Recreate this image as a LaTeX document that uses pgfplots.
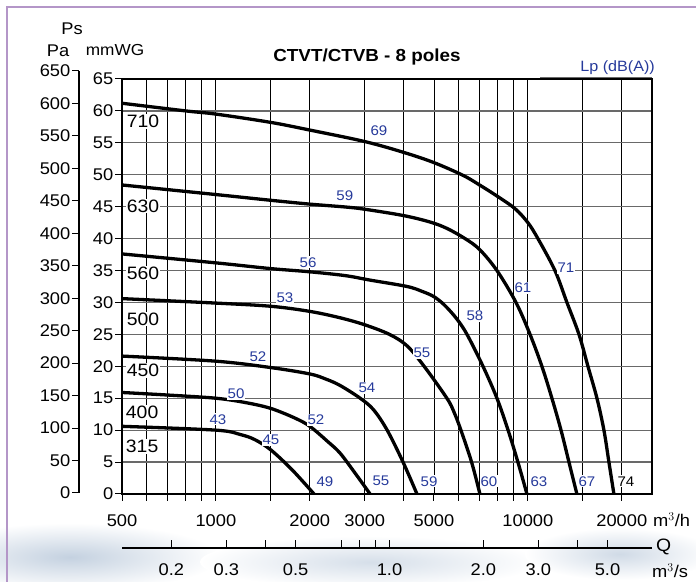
\documentclass[border=0pt]{standalone}
\usepackage{fontspec}
\setmainfont{Liberation Sans}[FakeStretch=1.08]
\usepackage{pgfplots}
\pgfplotsset{compat=1.18}

\definecolor{lpblue}{RGB}{38,58,155}
\definecolor{gridgray}{RGB}{105,105,105}
\definecolor{framelilac}{RGB}{180,150,200}
\definecolor{wash}{RGB}{196,209,224}

\newcommand{\fs}[1]{\fontsize{#1}{#1}\selectfont}
\tikzset{
  lbl/.style={font=\fs{14}, text=lpblue, fill=white, inner sep=1bp},
  fansize/.style={font=\fs{18}, fill=white, inner sep=1bp},
  curve/.style={black, no markers, line width=3.3bp, smooth, tension=0.55},
}

\begin{document}
\begin{tikzpicture}
\begin{scope}[x=1bp,y=1bp]
\useasboundingbox (0,0) rectangle (696,582);
% faint wash along the bottom and the frame
\shade[inner color=wash, outer color=white] (70,25) ellipse (150bp and 34bp);
\shade[inner color=wash!70, outer color=white] (370,20) ellipse (170bp and 26bp);
\shade[inner color=wash!80, outer color=white] (620,28) ellipse (95bp and 26bp);
\draw[framelilac, line width=1.5bp] (7,0) -- (7,575) -- (696,575);
\end{scope}

% pressure curves, Q in m3/h, Ps in mmWG
\begin{axis}[
    name=main,
    at={(122bp,88bp)}, anchor=south west,
    scale only axis, width=530bp, height=415bp,
    xmode=log, xmin=500, xmax=25000,
    ymin=0, ymax=65,
    xtick={500,600,700,800,900,1000,1500,2000,3000,4000,5000,6000,7000,8000,9000,10000,15000,20000},
    xticklabels={500,,,,,1000,,2000,3000,,5000,,,,,10000,,20000},
    ytick={0,5,...,65},
    yticklabels={0,5,10,15,20,25,30,35,40,45,50,55,60,65},
    tick pos=left, tick align=outside, major tick length=7bp,
    every tick/.style={black, line width=1bp},
    xmajorgrids, ymajorgrids,
    x grid style={black, line width=0.9bp},
    y grid style={gridgray, line width=1.2bp},
    axis line style={line width=1.8bp},
    tick label style={font=\fs{17}},
    yticklabel style={inner sep=1.5bp},
    xticklabel style={inner sep=2bp, yshift=-11bp},
    clip mode=individual,
]

% 710
\addplot[curve] coordinates {
 (500,61.2) (800,60.0) (1000,59.5) (1500,58.2) (2000,57.0) (3000,55.2)
 (4000,53.5) (5000,51.9) (6200,49.9) (7000,48.4) (8000,46.6) (9090,44.7)
 (10000,42.5) (10770,40.0) (12210,35.0) (13340,30.0) (14580,25.0)
 (15580,20.0) (16650,15.0) (17530,10.0) (18190,5.0) (18870,0)
};
% 630
\addplot[curve] coordinates {
 (500,48.4) (1000,46.9) (1500,46.0) (2000,45.4) (2600,44.95) (3000,44.6)
 (4000,43.6) (4855,42.6) (5500,41.6) (6290,40.0) (7000,38.3) (7960,35.0)
 (9160,30.0) (10160,25.0) (11090,20.0) (11940,15.0) (12770,10.0)
 (13540,5.0) (14360,0)
};
% 560
\addplot[curve] coordinates {
 (500,37.6) (1000,36.2) (1500,35.3) (2000,34.8) (2600,34.2) (3120,33.5)
 (4100,32.5) (4600,31.7) (5000,30.9) (5400,29.6) (5900,27.5) (6380,25.0)
 (7180,20.0) (7960,15.0) (8640,10.0) (9290,5.0) (9930,0)
};
% 500
\addplot[curve] coordinates {
 (500,30.6) (1000,29.9) (1500,29.4) (2000,28.6) (2500,27.6) (3000,26.5)
 (3600,25.0) (4100,23.2) (4650,20.0) (5500,15.0) (5800,12.8) (6100,10.0)
 (6600,5.0) (7020,0)
};
% 450
\addplot[curve] coordinates {
 (500,21.6) (1000,20.8) (1500,19.8) (2000,18.8) (2250,18.0) (2500,17.0)
 (2900,15.0) (3200,13.2) (3540,10.0) (3980,5.0) (4410,0)
};
% 400
\addplot[curve] coordinates {
 (500,15.9) (700,15.5) (1000,15.0) (1250,14.3) (1500,13.4) (1790,11.9)
 (2000,10.6) (2290,8.15) (2500,6.4) (2790,3.3) (3120,0)
};
% 315
\addplot[curve] coordinates {
 (500,10.6) (1000,10.0) (1200,9.3) (1334,8.5) (1500,6.9) (1754,3.8) (2063,0)
};

% fan sizes
\node[fansize] at (axis cs:584,58.3) {710};
\node[fansize] at (axis cs:584,45.1) {630};
\node[fansize] at (axis cs:584,34.6) {560};
\node[fansize] at (axis cs:584,27.4) {500};
\node[fansize] at (axis cs:584,19.3) {450};
\node[fansize] at (axis cs:580,12.8) {400};
\node[fansize] at (axis cs:580,7.4) {315};

% sound pressure levels
\node[lbl] at (axis cs:3332,56.9) {69};
\node[lbl] at (axis cs:13240,35.4) {71};
\node[lbl] at (axis cs:2590,46.7) {59};
\node[lbl] at (axis cs:9640,32.3) {61};
\node[lbl] at (axis cs:1974,36.3) {56};
\node[lbl] at (axis cs:6765,27.9) {58};
\node[lbl] at (axis cs:1665,30.7) {53};
\node[lbl] at (axis cs:4575,22.1) {55};
\node[lbl] at (axis cs:1364,21.5) {52};
\node[lbl] at (axis cs:3050,16.6) {54};
\node[lbl] at (axis cs:1160,15.7) {50};
\node[lbl] at (axis cs:2093,11.6) {52};
\node[lbl] at (axis cs:1015,11.7) {43};
\node[lbl] at (axis cs:1501,8.5) {45};
\node[lbl] at (axis cs:2236,2.0) {49};
\node[lbl] at (axis cs:3381,2.0) {55};
\node[lbl] at (axis cs:4820,2.0) {59};
\node[lbl] at (axis cs:7500,2.0) {60};
\node[lbl] at (axis cs:10850,2.0) {63};
\node[lbl] at (axis cs:15460,2.0) {67};
\node[lbl, text=black] at (axis cs:20620,2.0) {74};
\end{axis}

% Pa scale
\begin{axis}[
    at={(79bp,89bp)}, anchor=south west,
    scale only axis, width=10bp, height=422bp,
    xmin=0, xmax=1, ymin=0, ymax=650,
    hide x axis, axis y line*=left,
    ytick={0,50,...,650},
    yticklabels={0,50,100,150,200,250,300,350,400,450,500,550,600,650},
    tick align=outside, major tick length=7bp,
    every tick/.style={black, line width=1bp},
    axis line style={line width=1.8bp, -},
    tick label style={font=\fs{17}},
    yticklabel style={inner sep=1.5bp},
]
\addplot[draw=none] coordinates {(0,0)};
\end{axis}

% Q in m3/s
\begin{axis}[
    at={(122bp,34bp)}, anchor=south west,
    scale only axis, width=530bp, height=10bp,
    xmode=log, xmin=0.138889, xmax=6.944444,
    ymin=0, ymax=1,
    hide y axis, axis x line*=bottom,
    xtick={0.2,0.3,0.4,0.5,0.7,0.8,0.9,1,2,3,4,5},
    xticklabels={0.2,0.3,,0.5,,,,1.0,2.0,3.0,,5.0},
    tick align=inside, major tick length=8bp,
    every tick/.style={black, line width=1bp},
    axis line style={line width=1.8bp, -},
    tick label style={font=\fs{17}},
    xticklabel style={yshift=-12bp},
]
\addplot[draw=none] coordinates {(1,0)};
\end{axis}

% texts round the chart
\begin{scope}[x=1bp,y=1bp]
\node[font=\bfseries\fs{17.5}, anchor=base] at (367,520) {CTVT/CTVB - 8 poles};
\node[font=\fs{15}, text=lpblue, anchor=base east, inner sep=0pt] at (655,510) {Lp (dB(A))};
\draw[gridgray, line width=0.8bp] (540,505) -- (652,505);
\node[font=\fs{17}, anchor=base, inner sep=0pt] at (72,547) {Ps};
\node[font=\fs{17}, anchor=base, inner sep=0pt] at (58,525) {Pa};
\node[font=\fs{16}, anchor=base, inner sep=0pt] at (115,526) {mmWG};
\node[font=\fs{17}, anchor=base west, inner sep=0pt] at (653,55) {m$^3$/h};
\node[font=\fs{18}, anchor=base west, inner sep=0pt] at (656,30) {Q};
\node[font=\fs{17}, anchor=base west, inner sep=0pt] at (652,4) {m$^3$/s};
\end{scope}
\end{tikzpicture}
\end{document}
